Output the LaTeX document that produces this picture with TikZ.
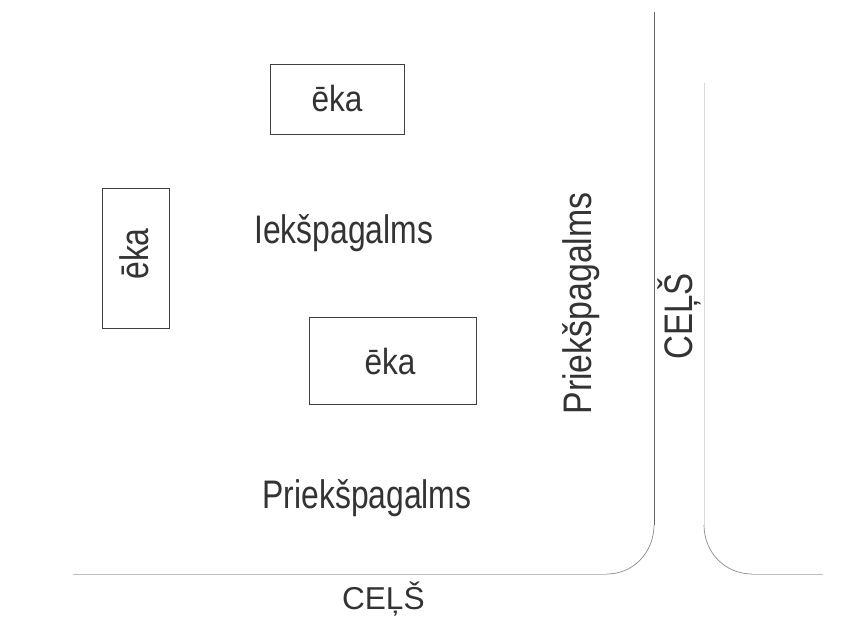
\documentclass[tikz,border=0pt]{standalone}
\usepackage{fontspec}
\setmainfont{Liberation Sans}
\tikzset{
bldg/.style={draw=black!75,line width=0.8pt,inner sep=0pt},
lbl/.style={text=black!80,anchor=base,inner sep=0pt,transform shape},
road/.style={line width=0.6pt}
}
\begin{document}
\begin{tikzpicture}
\useasboundingbox (0,0) rectangle (25.86,18.72);
% buildings
\node[bldg,minimum width=4.02cm,minimum height=2.1cm] (bt) at (10.11,15.75) {};
\node[bldg,minimum width=2.01cm,minimum height=4.2cm] (bl) at (4.065,10.98) {};
\node[bldg,minimum width=5.01cm,minimum height=2.61cm] (bm) at (11.775,7.905) {};
% labels
\node[lbl,font=\fontsize{31}{31}\selectfont,xscale=.87] (lt) at (10.11,15.36) {ēka};
\node[lbl,font=\fontsize{34}{34}\selectfont,rotate=90,xscale=.8] (ll) at (4.46,11.1) {ēka};
\node[lbl,font=\fontsize{31}{31}\selectfont,xscale=.87] (lm) at (11.7,7.5) {ēka};
\node[lbl,font=\fontsize{34}{34}\selectfont,xscale=.8] (in) at (10.31,11.43) {Iekšpagalms};
\node[lbl,font=\fontsize{34}{34}\selectfont,xscale=.8] (pb) at (11.01,3.48) {Priekšpagalms};
\node[lbl,font=\fontsize{34}{34}\selectfont,rotate=90,xscale=.85] (pr) at (17.74,9.615) {Priekšpagalms};
\node[lbl,font=\fontsize{27}{27}\selectfont] (cb) at (11.5,0.45) {CEĻŠ};
\node[lbl,font=\fontsize{34}{34}\selectfont,rotate=90,xscale=.83] (cr) at (20.76,9.225) {CEĻŠ};
% road edges
\coordinate (a) at (19.62,18.36);
\coordinate (b) at (19.62,2.97);
\coordinate (c) at (18.21,1.5);
\coordinate (d) at (2.19,1.5);
\coordinate (e) at (21.12,16.23);
\coordinate (f) at (21.12,2.97);
\coordinate (g) at (22.56,1.5);
\coordinate (h) at (24.69,1.5);
\draw[road,draw=black!60] (a) -- (b);
\draw[road,draw=black!45] (b) .. controls (19.62,2.15) and (19.0,1.5) .. (c);
\draw[road,draw=black!25] (c) -- (d);
\draw[road,draw=black!15] (e) -- (f);
\draw[road,draw=black!45] (f) .. controls (21.12,2.15) and (21.75,1.5) .. (g);
\draw[road,draw=black!25] (g) -- (h);
\end{tikzpicture}
\end{document}
